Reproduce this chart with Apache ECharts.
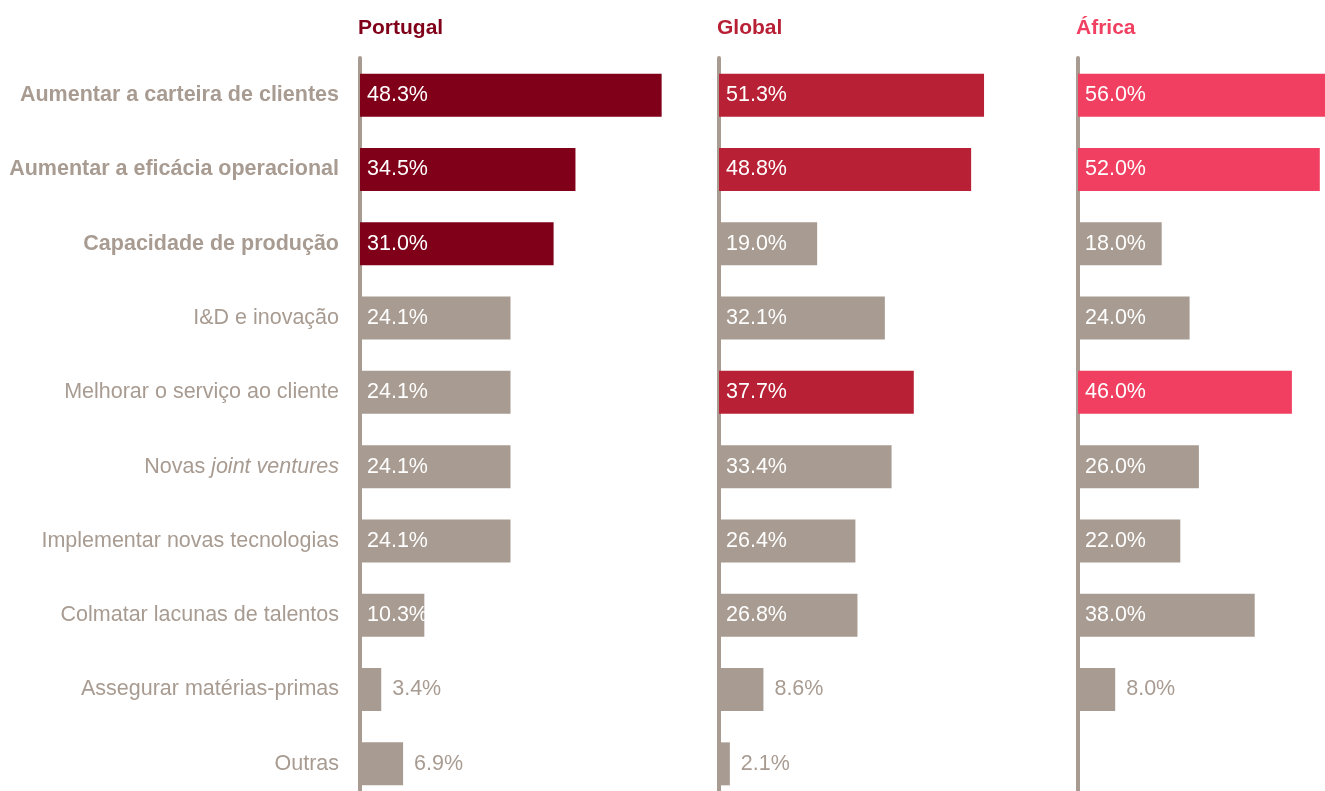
<!DOCTYPE html>
<html>
<head>
<meta charset="utf-8">
<style>
  html, body { margin: 0; padding: 0; background: #ffffff; }
  #chart { width: 1325px; height: 791px; }
</style>
<script src="https://cdn.jsdelivr.net/npm/echarts@6/dist/echarts.min.js"></script>
</head>
<body>
<div id="chart"></div>
<script>
// Categories (top to bottom)
const categories = [
  'Aumentar a carteira de clientes',
  'Aumentar a eficácia operacional',
  'Capacidade de produção',
  'I&D e inovação',
  'Melhorar o serviço ao cliente',
  'Novas joint ventures',
  'Implementar novas tecnologias',
  'Colmatar lacunas de talentos',
  'Assegurar matérias-primas',
  'Outras'
];
// Categories shown in bold
const boldCategories = [0, 1, 2];

// Panel titles
const panelTitles = ['Portugal', 'Global', 'África'];

// Values (%)
const portugalValues = [48.3, 34.5, 31.0, 24.1, 24.1, 24.1, 24.1, 10.3, 3.4, 6.9];
const globalValues   = [51.3, 48.8, 19.0, 32.1, 37.7, 33.4, 26.4, 26.8, 8.6, 2.1];
const africaValues   = [56.0, 52.0, 18.0, 24.0, 46.0, 26.0, 22.0, 38.0, 8.0, null];

// Indexes of highlighted bars in each panel
const portugalHighlight = [0, 1, 2];
const globalHighlight   = [0, 1, 4];
const africaHighlight   = [0, 1, 4];

const GREY = '#a89b91';
const FONT = '"Liberation Sans", Arial, Helvetica, sans-serif';
const FS = 21.5;

const panels = [
  { title: panelTitles[0], values: portugalValues, hi: portugalHighlight, color: '#80001a', left: 360,  width: 331, max: 53 },
  { title: panelTitles[1], values: globalValues,   hi: globalHighlight,   color: '#b82035', left: 719,  width: 310, max: 60 },
  { title: panelTitles[2], values: africaValues,   hi: africaHighlight,   color: '#f03f60', left: 1078, width: 279, max: 60 }
];

const GRID_TOP = 58;
const GRID_HEIGHT = 743;

function barData(p) {
  return p.values.map((v, i) => {
    if (v === null) return null;
    const inside = v >= 10;
    return {
      value: v,
      itemStyle: { color: p.hi.includes(i) ? p.color : GREY },
      label: inside
        ? { position: 'insideLeft', distance: 7, color: '#ffffff' }
        : { position: 'right', distance: 11, color: GREY }
    };
  });
}

function categoryLabel(value, idx) {
  if (value === 'Novas joint ventures') {
    return '{n|Novas }{i|joint ventures}';
  }
  return boldCategories.includes(idx) ? '{b|' + value + '}' : '{n|' + value + '}';
}

const chart = echarts.init(document.getElementById('chart'), null, { renderer: 'canvas' });

const option = {
  animation: false,
  backgroundColor: '#ffffff',
  textStyle: { fontFamily: FONT },
  title: panels.map(p => ({
    text: p.title,
    left: p.left - 2,
    top: 18,
    padding: 0,
    textStyle: { color: p.color, fontSize: 21, fontWeight: 'bold', fontFamily: FONT }
  })),
  grid: panels.map(p => ({
    left: p.left, top: GRID_TOP, width: p.width, height: GRID_HEIGHT,
    containLabel: false, outerBoundsMode: 'none'
  })),
  xAxis: panels.map((p, k) => ({
    type: 'value', gridIndex: k, min: 0, max: p.max,
    show: false
  })),
  yAxis: panels.map((p, k) => ({
    type: 'category', gridIndex: k, data: categories, inverse: true,
    axisLine: { show: true, lineStyle: { color: GREY, width: 4 } },
    axisTick: { show: false },
    splitLine: { show: false },
    axisLabel: k === 0 ? {
      show: true,
      margin: 21,
      formatter: categoryLabel,
      rich: {
        n: { fontSize: FS, color: GREY, fontFamily: FONT },
        b: { fontSize: FS, color: GREY, fontWeight: 'bold', fontFamily: FONT },
        i: { fontSize: FS, color: GREY, fontStyle: 'italic', fontFamily: FONT }
      }
    } : { show: false }
  })),
  series: panels.map((p, k) => ({
    type: 'bar',
    xAxisIndex: k, yAxisIndex: k,
    barWidth: 43,
    z: 1,
    data: barData(p),
    label: {
      show: true,
      fontSize: FS,
      fontFamily: FONT,
      formatter: d => d.value.toFixed(1) + '%'
    }
  }))
};

chart.setOption(option);
</script>
</body>
</html>
